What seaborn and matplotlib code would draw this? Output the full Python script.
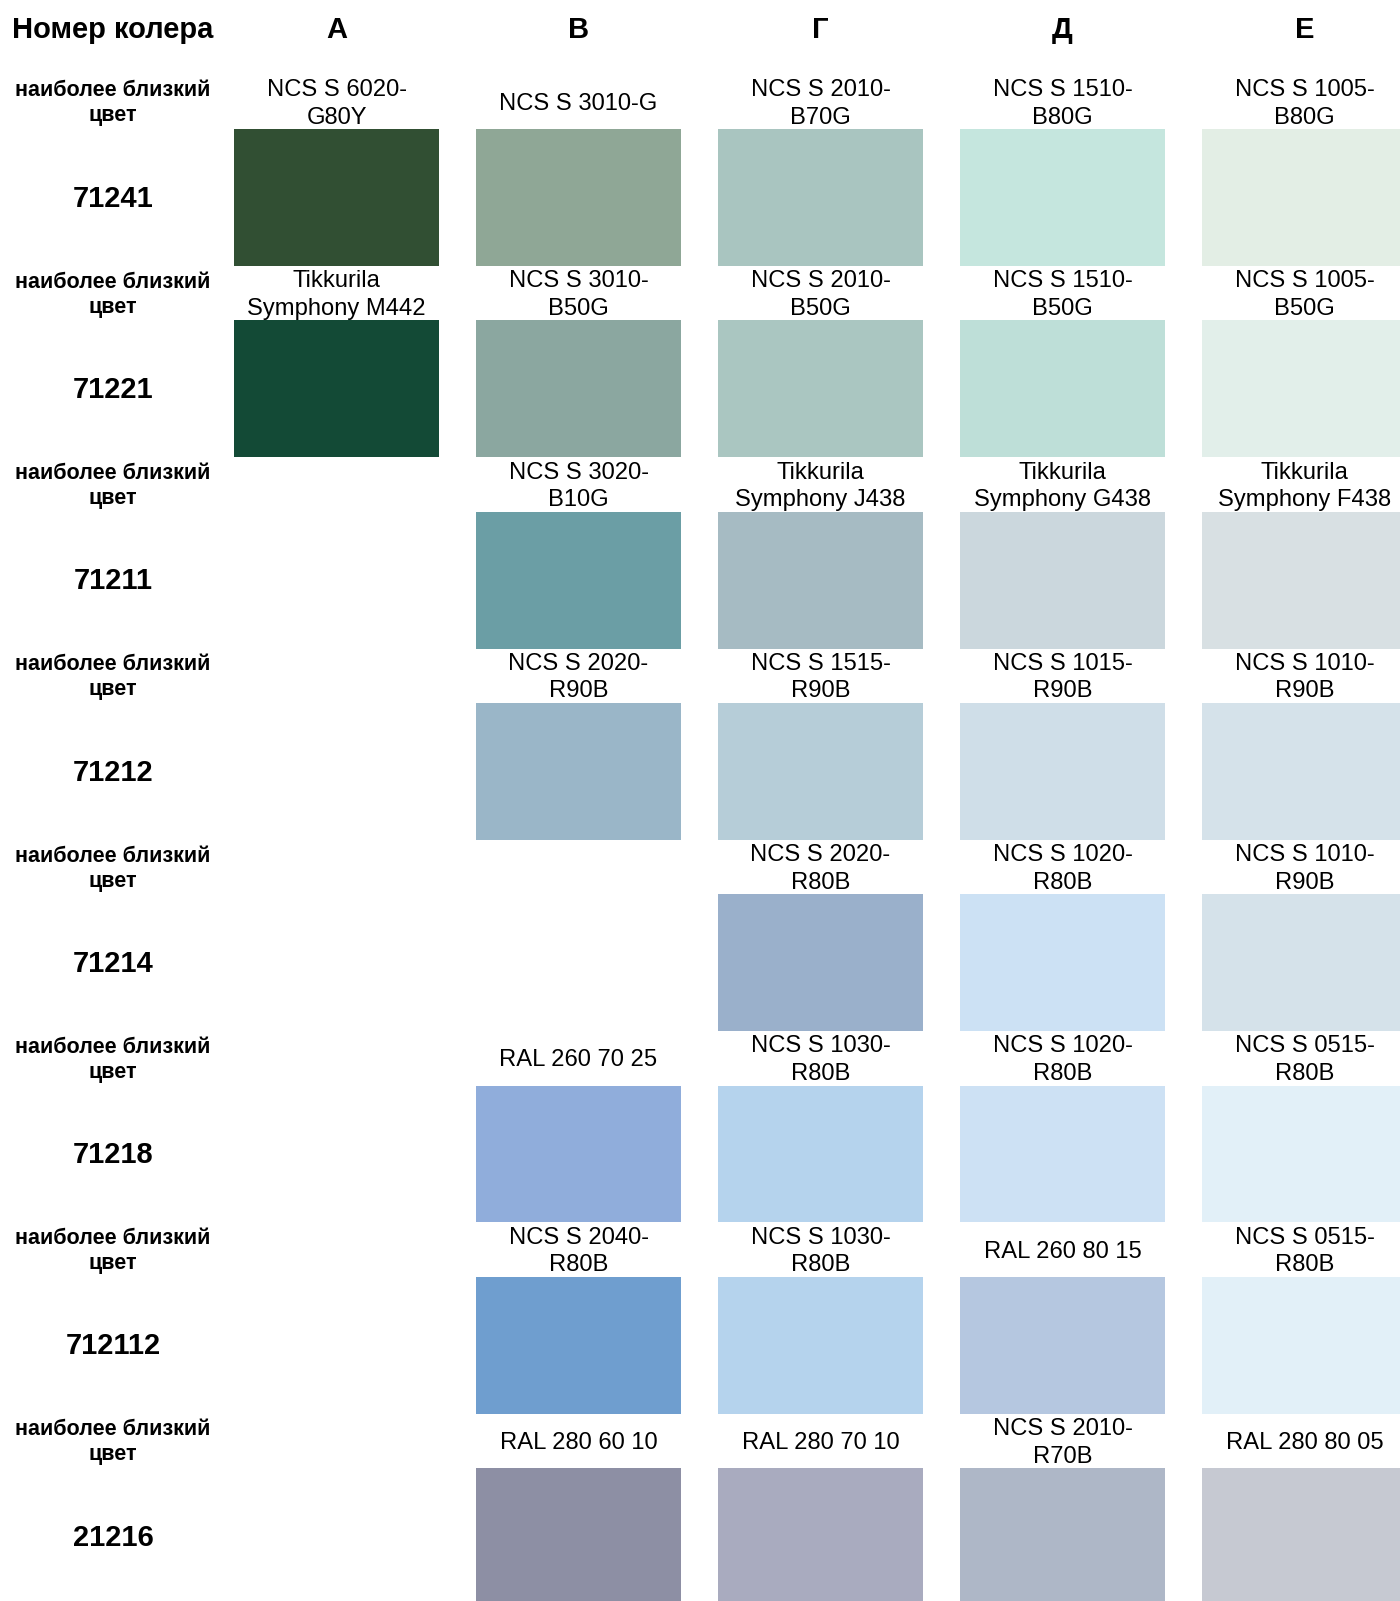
import matplotlib
matplotlib.use("Agg")
import matplotlib.pyplot as plt
import seaborn as sns

# column letters and row codes
columns = ["А", "В", "Г", "Д", "Е"]
row_codes = ["71241", "71221", "71211", "71212", "71214", "71218", "712112", "21216"]
hint = "наиболее близкий\nцвет"

# swatch colours per row (None = empty cell)
row_71241 = ["#314f33", "#8fa796", "#a9c5c0", "#c5e6de", "#e3eee5"]
row_71221 = ["#134a36", "#8ba7a0", "#aac6c1", "#bedfd8", "#e2efea"]
row_71211 = [None, "#6b9ea5", "#a6bbc3", "#cbd7dd", "#d8e0e3"]
row_71212 = [None, "#9ab6c8", "#b6cdd8", "#cfdee8", "#d5e2ea"]
row_71214 = [None, None, "#9ab0cb", "#cce1f4", "#d5e2ea"]
row_71218 = [None, "#90addb", "#b5d3ed", "#cde1f4", "#e2f0f8"]
row_712112 = [None, "#6f9ecf", "#b5d3ed", "#b5c7e0", "#e2f0f8"]
row_21216 = [None, "#8d8fa4", "#a9abbf", "#aeb7c7", "#c6c9d2"]
swatch_colors = [row_71241, row_71221, row_71211, row_71212,
                 row_71214, row_71218, row_712112, row_21216]

# nearest colour names per row
names_71241 = ["NCS S 6020-\nG80Y", "NCS S 3010-G", "NCS S 2010-\nB70G",
               "NCS S 1510-\nB80G", "NCS S 1005-\nB80G"]
names_71221 = ["Tikkurila\nSymphony M442", "NCS S 3010-\nB50G", "NCS S 2010-\nB50G",
               "NCS S 1510-\nB50G", "NCS S 1005-\nB50G"]
names_71211 = ["", "NCS S 3020-\nB10G", "Tikkurila\nSymphony J438",
               "Tikkurila\nSymphony G438", "Tikkurila\nSymphony F438"]
names_71212 = ["", "NCS S 2020-\nR90B", "NCS S 1515-\nR90B",
               "NCS S 1015-\nR90B", "NCS S 1010-\nR90B"]
names_71214 = ["", "", "NCS S 2020-\nR80B", "NCS S 1020-\nR80B", "NCS S 1010-\nR90B"]
names_71218 = ["", "RAL 260 70 25", "NCS S 1030-\nR80B",
               "NCS S 1020-\nR80B", "NCS S 0515-\nR80B"]
names_712112 = ["", "NCS S 2040-\nR80B", "NCS S 1030-\nR80B",
                "RAL 260 80 15", "NCS S 0515-\nR80B"]
names_21216 = ["", "RAL 280 60 10", "RAL 280 70 10",
               "NCS S 2010-\nR70B", "RAL 280 80 05"]
swatch_names = [names_71241, names_71221, names_71211, names_71212,
                names_71214, names_71218, names_712112, names_21216]

sns.set_theme(style="white")
plt.rcParams['font.family'] = ['Liberation Sans', 'DejaVu Sans']

fig = plt.figure(figsize=(14, 16.01), dpi=100)
ax = fig.add_axes([0, 0, 1, 1])

# swatches as bars: x = column number, y = row number (top down)
xs, bottoms, colors = [], [], []
for r, row in enumerate(swatch_colors):
    for c, col in enumerate(row):
        if col is not None:
            xs.append(c + 1)
            bottoms.append(r - 0.358)
            colors.append(col)
ax.bar(xs, 0.716, bottom=bottoms, width=0.847, color=colors, linewidth=0)

label_x = 0.076
ax.text(label_x, -0.874, "Номер колера", ha='center', va='center',
        fontsize=21, fontweight='bold', color='black')
for c, letter in enumerate(columns):
    ax.text(c + 1, -0.874, letter, ha='center', va='center',
            fontsize=21, fontweight='bold', color='black')

for r, code in enumerate(row_codes):
    ax.text(label_x, r - 0.492, hint, ha='center', va='center',
            fontsize=15.5, fontweight='bold', color='black', linespacing=1.25)
    ax.text(label_x, r + 0.006, code, ha='center', va='center',
            fontsize=21, fontweight='bold', color='black')
    for c, name in enumerate(swatch_names[r]):
        if name:
            ax.text(c + 1, r - 0.49, name, ha='center', va='center',
                    fontsize=17.1, color='black', linespacing=1.33)

ax.set_xlim(-0.3905, 5.3946)
ax.set_ylim(7.3367, -1.0324)
ax.axis('off')

fig.savefig('out.png', dpi=100)
